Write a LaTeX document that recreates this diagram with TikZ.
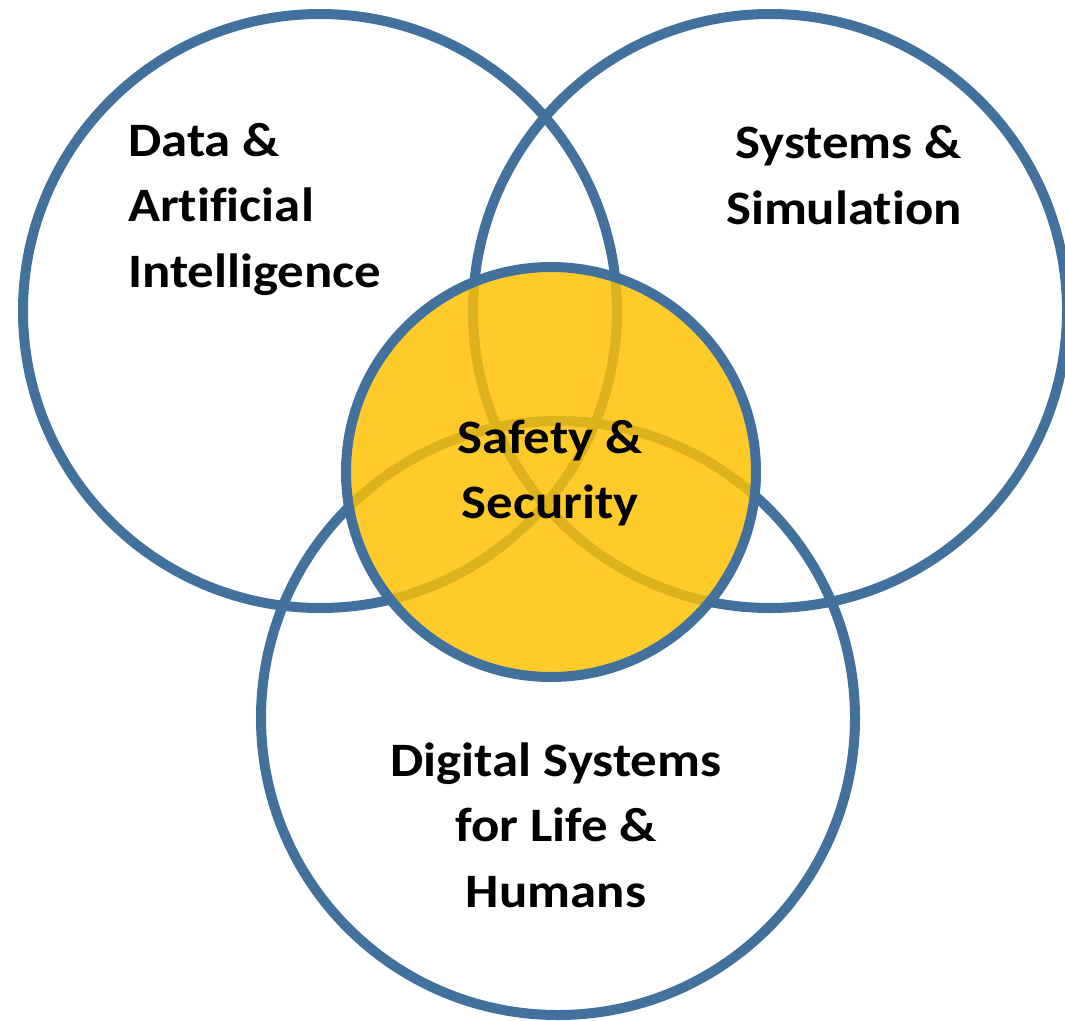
\documentclass[tikz,border=0pt]{standalone}
\usepackage{fontspec}
\setmainfont{Carlito}[FakeStretch=1.1, Ligatures=NoCommon]
\definecolor{ringblue}{HTML}{41719C}
\definecolor{coreyellow}{HTML}{FFC000}
\tikzset{
  ring/.style={draw=ringblue, line width=10pt},
  areatext/.style={font=\bfseries\fontsize{48}{65.5}\selectfont, inner sep=0pt},
}
\begin{document}
\begin{tikzpicture}[x=1pt,y=-1pt]
    \useasboundingbox (0,0) rectangle (1065,1020);
    % outer rings
    \draw[ring] (320,311) circle (297pt);
    \draw[ring] (770,311) circle (297pt);
    \draw[ring] (558,718) circle (297pt);
    % core
    \fill[coreyellow, fill opacity=0.83] (551,472) circle (205pt);
    \draw[ring] (551,472) circle (205pt);
    % labels
    \node[areatext, align=left, anchor=west] (dai) at (128,209) {Data \&\\Artificial\\Intelligence};
    \node[areatext, align=right, anchor=east] (sys) at (962,175) {Systems \&\\Simulation};
    \node[areatext, align=center] (safe) at (550,473) {Safety \&\\Security};
    \node[areatext, align=center] (life) at (556,825) {Digital Systems\\for Life \&\\Humans};
\end{tikzpicture}
\end{document}
